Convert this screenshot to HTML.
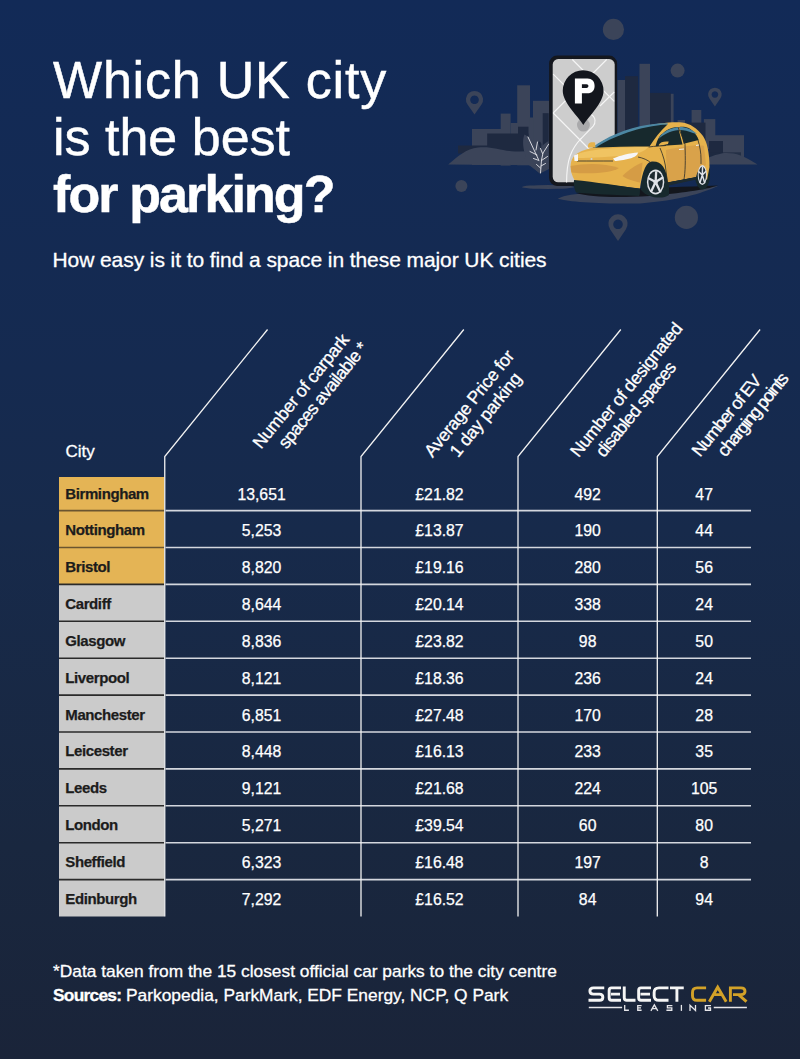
<!DOCTYPE html>
<html><head><meta charset="utf-8">
<style>
*{margin:0;padding:0;box-sizing:border-box;}
html,body{width:800px;height:1059px;overflow:hidden;}
body{position:relative;font-family:"Liberation Sans",sans-serif;color:#fff;
background:linear-gradient(180deg,#122a57 0%,#152a50 35%,#172a4b 50%,#19273f 80%,#1a2439 100%);}
.abs{position:absolute;white-space:nowrap;}
.t{font-size:52px;line-height:57px;left:53px;-webkit-text-stroke:0.5px #fff;}
.sub{font-size:21px;left:52.5px;letter-spacing:-0.08px;-webkit-text-stroke:0.3px #fff;}
.hl{position:absolute;height:0;}
.city{position:absolute;left:59px;width:105px;color:#1c1c1c;font-weight:bold;font-size:15px;padding-left:6.3px;line-height:18px;letter-spacing:-0.4px;-webkit-text-stroke:0.25px #1c1c1c;}
.num{position:absolute;font-size:15.8px;text-align:center;width:100px;line-height:18px;-webkit-text-stroke:0.25px #fff;}
.foot{-webkit-text-stroke:0.3px #fff;}
.rh{position:absolute;font-size:17px;transform-origin:0 0;white-space:nowrap;}
</style></head><body>
<svg class="abs" style="left:0;top:0;" width="800" height="260" viewBox="0 0 800 260">
<g fill="#3b4459">
<!-- left city light blocks -->
<rect x="517.2" y="85.3" width="12.8" height="80"/>
<rect x="533" y="100.8" width="16" height="65"/>
<rect x="500.7" y="113.6" width="9.9" height="52"/>
<rect x="472" y="129" width="30" height="36"/>
<rect x="510.6" y="123" width="8" height="42"/>
<rect x="529.5" y="117.5" width="4" height="48"/>
<!-- right city light -->
<rect x="617.5" y="80" width="9" height="60"/>
<rect x="639.5" y="63.8" width="10.5" height="80"/>
<rect x="670.6" y="93.8" width="3" height="50"/>
<rect x="677.6" y="120" width="7.4" height="30"/>
<rect x="691.6" y="110" width="9.7" height="40"/>
<rect x="703.9" y="119.1" width="11.4" height="30"/>
<rect x="715" y="135.2" width="29" height="22"/>

<!-- pins and circles -->
<circle cx="613.45" cy="29.4" r="10.6"/>
<circle cx="677.6" cy="70.6" r="7"/>
<circle cx="461.4" cy="186" r="6"/>
<circle cx="686.4" cy="217.4" r="11.6"/>
<path fill-rule="evenodd" d="M474.5,114.5 L467.5,104.5 A8.6,8.6 0 1 1 481.5,104.5 Z M474.5,95.5 A4.3,4.3 0 1 0 474.51,95.5 Z"/>
<path fill-rule="evenodd" d="M714.9,106.5 L709.3,98.3 A6.8,6.8 0 1 1 720.5,98.3 Z M714.9,91.2 A3.3,3.3 0 1 0 714.91,91.2 Z"/>
<path fill-rule="evenodd" d="M618,241 L610.2,229.5 A9.6,9.6 0 1 1 625.8,229.5 Z M618,219.5 A4.8,4.8 0 1 0 618.01,219.5 Z"/>
<!-- shadows -->
<ellipse cx="548" cy="187" rx="26" ry="2"/>
<path d="M557.7,198.7 C565,195 575,193.5 590,193.2 L718,186 C700,194 680,200 640,203.5 C600,204 570,202 557.7,198.7 Z"/>
</g>
<g fill="#1e2940">
<rect x="487.2" y="133.5" width="41.3" height="20"/>
<rect x="518" y="126.7" width="10.5" height="10"/>
<rect x="458" y="145.5" width="30" height="8"/>
<rect x="542.7" y="113.2" width="6" height="40"/>
<rect x="625" y="76.2" width="13" height="70"/>
<rect x="650" y="92.9" width="20.6" height="55"/>
<rect x="685.5" y="122.6" width="20" height="30"/>
<rect x="709" y="141" width="14" height="15"/>
<rect x="709" y="152.3" width="32" height="8" opacity="0.75"/>
</g>
<g fill="#3b4459"><!-- left hill -->
<path d="M448.2,164.5 C458,156 466,149 478,147.5 C492,146 502,151 515,151.5 C528,152 538,150 548,150 L548,165 L540,173.5 L530,165 Z"/>
</g>
<path fill="#3b4459" d="M700,164.6 C705,158 712,155.5 722.5,153.2 C735,152.5 742,155 757.5,164.6 Z"/>
<!-- plant -->
<path d="M524.5,134.5 C530,137 536,145 539,152 C540,148 543,144 548.7,141 L549,169 L540,173.5 L529,165 L520,165 L526,156 C523,150 522,140 524.5,134.5 Z" fill="#3b4459"/>
<path d="M541.5,144 C540,141 539,141 538,143 L541,150 Z" fill="#1e2940"/>
<g stroke="#e8e8ec" stroke-width="0.9" fill="none" stroke-linecap="round">
<path d="M540.5,173 L541.5,160 L543,153 L548.75,144"/>
<path d="M528,137 L538.5,159.5"/>
<path d="M530,151.5 L537,155 M533.5,158.5 L539,160.5 M536.5,164.5 L540.5,168"/>
<path d="M540.5,148.5 L542.5,153.5 M547.5,156.5 L541.5,160.5 M545.5,163.5 L541,166"/>
<path d="M537.5,142 L536,150"/>
</g>
<!-- phone -->
<rect x="549.1" y="55.6" width="68" height="130.3" rx="8" fill="#14171e"/>
<rect x="552.7" y="59.1" width="62" height="123.2" rx="5.5" fill="#cdcdcd"/>
<g stroke="#f6f6f6" stroke-width="1.1" fill="none">
<path d="M572.3,59.5 L614.2,101.3"/>
<path d="M606.7,59.5 L553.2,113"/>
<path d="M553.2,74.1 L578,99"/>
<path d="M553.2,113 L590,150"/>
<path d="M580.6,139.2 L593,126.5 C596,123 596,117 591,114.5"/>
<path d="M581.5,138.2 C571,149 566.6,160 566.6,182.5"/>
<path d="M614.2,92 L600,106"/>
</g>
<circle cx="583.4" cy="125.1" r="6.4" fill="#a9a9ab"/>
<path d="M583.4,125.1 C579,117 562.75,103 562.75,90.7 A20.4,20.4 0 0 1 603.55,90.7 C603.55,103 588,117 583.4,125.1 Z" fill="#13161d"/>
<path fill-rule="evenodd" fill="#fff" d="M574.9,78.6 H587.5 C592,78.6 594.6,81.5 594.6,86 C594.6,90.5 592,93.3 587.5,93.3 H581.9 V103.45 H574.9 Z M581.9,84.3 H586.5 C587.8,84.3 588.4,85 588.4,86 C588.4,87 587.8,87.9 586.5,87.9 H581.9 Z"/>
<!-- car shadow -->
<path d="M576,193 C600,190 650,188 718,185.5 C705,190 680,193 650,196 C615,198 590,197 576,193 Z" fill="#13161d"/>
<!-- car -->
<g>
<ellipse cx="702.5" cy="175" rx="7.5" ry="14.5" fill="#17292d"/>
<path d="M641,190 C641,172 646,161 655,161 C664,161 669,170 669,184 L669,195 C664,199 648,199 641,190 Z" fill="#17292d"/>
<!-- body -->
<path d="M570.6,166 C571,160 573,156 578,153 C583,150 588,149 593,147.5 C605,139 625,128 660,123.5 C668,122.5 676,122 682,122.5 C690,123.5 697,128 703,136 C707,142 709.5,152 709.5,167 L707,180 L703,176 C702,166 697,161 696,177 L668,182.5 C666,168 662,161 652,161.5 C645,162 642,175 640,188.5 L575,181 C572,176 570.5,171 570.6,166 Z" fill="#e6b24c"/>
<path d="M578,154 C590,149 620,147 648,147 C645,151 640,153 630,155 C610,157 590,158 578,158 Z" fill="#f0c462"/>
<path d="M666,150 C680,147 698,144 704,146 L706,165 C700,167 697,172 696,177 L668,182 C667,170 666,160 666,150 Z" fill="#d9a24a"/>
<!-- shading -->
<path d="M570.6,166 C585,163 605,163 619,168 C612,173 590,174.5 571.5,172.5 Z" fill="#d59c45"/>
<path d="M622.5,176 C628,170 636,165 642.5,162.5 C642,170 641,177 640,182.5 C633,181 626,179 622.5,176 Z" fill="#d59c45"/>
<!-- windshield -->
<path d="M592.5,147.7 C605,139 625,129 645,126 C655,124.5 663,124 667.5,124.4 C660,131 654,139 649.5,146.5 C630,146.5 610,147 592.5,147.7 Z" fill="#17292d"/>
<path d="M593,147 C605,138 625,128 650,124.5 C658,123.5 664,123 668,123.5 L667.5,124.6 C640,126 612,137 596,147.5 Z" fill="#4c87a3"/>
<!-- side windows -->
<path d="M655.6,146.3 C657,140 660,135 662.5,133.8 C666,130 670,127.7 678,127 L682.5,144.4 Z" fill="#17292d"/>
<path d="M658.5,139 C661,134 666,129 678,127 L678.8,130 C669,131 663,135 658.5,139 Z" fill="#4c87a3"/>
<path d="M679.4,126.9 C683,126.5 686,127 688.7,128 C692,130 696,133 698.7,140 L683.7,143.7 Z" fill="#17292d"/>
<path d="M679.5,127 C685,126.8 692,129 697,134 L693,133 C688,131 684,130 680,130 Z" fill="#4c87a3"/>
<path d="M658.7,145 C660,142 664,141 668.7,141.5 L668,144 L659,146 Z" fill="#e6b24c"/>
<path d="M588,147.5 C587.5,143 590,141.5 595,142.5 L595.5,147.5 Z" fill="#e6b24c"/>
<!-- lines -->
<g stroke="#2a2b28" stroke-width="0.8" fill="none">
<path d="M678,127 C681,134 684,140 685,144.4 C685.5,160 685.5,172 683.7,181"/>
<path d="M660,148 C663,155 665.5,163 666,171 L667.5,182.5"/>
<path d="M698,140 C700,147 701,153 701,159 L701,164"/>
<path d="M577,161 C590,161 600,161 613,161"/>
<path d="M638,157 C643,158 648,160 651,163"/>
<path d="M648.7,147 C655,146 662,146 666,145.5"/>
</g>
<!-- headlights -->
<path d="M613,158.5 C620,155.5 630,153 638,152.5 C637.5,155.5 635,157 630,158.5 C624,160 618,161 615,161 Z" fill="#f6f6f6"/>
<path d="M574,155.5 L578,154 L578,161 L574.5,161 Z" fill="#f6f6f6"/>
<circle cx="591.5" cy="159" r="1" fill="#cfd3d8"/>
<path d="M679,149 L684,148.5 L684,149.6 L679,150 Z" fill="#eee"/>
<path d="M696,145 L699,144.6 L699,145.6 L696,146 Z" fill="#eee"/>
<!-- bumper -->
<path d="M574,180 C595,182 620,186 640,188.7 C640,192 640,195 639,196 C615,195 590,194 576,192.5 C574,188 573.5,184 574,180 Z" fill="#17292d"/>
<path d="M668,182.5 L696,177 L696,179 L668,185 Z" fill="#17292d"/>
<!-- rims -->
<ellipse cx="655.6" cy="182" rx="8.7" ry="12.5" fill="#dfe2e7"/>
<ellipse cx="655.6" cy="182" rx="7.2" ry="10.8" fill="#1d2a30"/>
<g stroke="#dfe2e7" stroke-width="2.3" stroke-linecap="butt">
<path d="M655.6,182 L656.2,171.3 M655.6,182 L663.2,177.2 M655.6,182 L660.6,192.4 M655.6,182 L650.8,192.2 M655.6,182 L648.2,178"/>
</g>
<circle cx="655.6" cy="182" r="2.3" fill="#dfe2e7"/>
<ellipse cx="702.3" cy="175" rx="4.6" ry="10" fill="#dfe2e7"/>
<ellipse cx="702.3" cy="175" rx="3.6" ry="8.6" fill="#1d2a30"/>
<g stroke="#dfe2e7" stroke-width="1.5">
<path d="M702.3,175 L702.6,166.4 M702.3,175 L706,171.3 M702.3,175 L704.8,183.3 M702.3,175 L699.8,183.3 M702.3,175 L698.6,171.5"/>
</g>
<path d="M668,182.3 L696.5,177.2 L696.5,179.6 L668.5,185.5 Z" fill="#1d2a30"/>
</g>
</svg>

<div class="abs t" style="top:52px;letter-spacing:0.8px;">Which UK city</div>
<div class="abs t" style="top:109px;">is the best</div>
<div class="abs t" style="top:166px;font-weight:bold;letter-spacing:-1.9px;">for parking?</div>
<div class="abs sub" style="top:248px;">How easy is it to find a space in these major UK cities</div>
<svg class="abs" style="left:0;top:0;" width="800" height="1059" viewBox="0 0 800 1059">
<!--TS-->
<rect x="59" y="477.00" width="105.2" height="33.60" fill="#e4b455"/>
<rect x="59" y="510.60" width="105.2" height="36.90" fill="#e4b455"/>
<rect x="59" y="547.50" width="105.2" height="36.90" fill="#e4b455"/>
<rect x="59" y="584.40" width="105.2" height="36.90" fill="#cbcbcb"/>
<rect x="59" y="621.30" width="105.2" height="36.90" fill="#cbcbcb"/>
<rect x="59" y="658.20" width="105.2" height="36.90" fill="#cbcbcb"/>
<rect x="59" y="695.10" width="105.2" height="36.90" fill="#cbcbcb"/>
<rect x="59" y="732.00" width="105.2" height="36.90" fill="#cbcbcb"/>
<rect x="59" y="768.90" width="105.2" height="36.90" fill="#cbcbcb"/>
<rect x="59" y="805.80" width="105.2" height="36.90" fill="#cbcbcb"/>
<rect x="59" y="842.70" width="105.2" height="36.90" fill="#cbcbcb"/>
<rect x="59" y="879.60" width="105.2" height="36.90" fill="#cbcbcb"/>
<line x1="59" y1="510.60" x2="164" y2="510.60" stroke="#6a5530" stroke-width="1.6"/>
<line x1="165.5" y1="510.60" x2="751" y2="510.60" stroke="#d4d7de" stroke-width="1.6"/>
<line x1="59" y1="547.50" x2="164" y2="547.50" stroke="#6a5530" stroke-width="1.6"/>
<line x1="165.5" y1="547.50" x2="751" y2="547.50" stroke="#d4d7de" stroke-width="1.6"/>
<line x1="59" y1="584.40" x2="164" y2="584.40" stroke="#2a2a2a" stroke-width="1.6"/>
<line x1="165.5" y1="584.40" x2="751" y2="584.40" stroke="#d4d7de" stroke-width="1.6"/>
<line x1="59" y1="621.30" x2="164" y2="621.30" stroke="#2a2a2a" stroke-width="1.6"/>
<line x1="165.5" y1="621.30" x2="751" y2="621.30" stroke="#d4d7de" stroke-width="1.6"/>
<line x1="59" y1="658.20" x2="164" y2="658.20" stroke="#2a2a2a" stroke-width="1.6"/>
<line x1="165.5" y1="658.20" x2="751" y2="658.20" stroke="#d4d7de" stroke-width="1.6"/>
<line x1="59" y1="695.10" x2="164" y2="695.10" stroke="#2a2a2a" stroke-width="1.6"/>
<line x1="165.5" y1="695.10" x2="751" y2="695.10" stroke="#d4d7de" stroke-width="1.6"/>
<line x1="59" y1="732.00" x2="164" y2="732.00" stroke="#2a2a2a" stroke-width="1.6"/>
<line x1="165.5" y1="732.00" x2="751" y2="732.00" stroke="#d4d7de" stroke-width="1.6"/>
<line x1="59" y1="768.90" x2="164" y2="768.90" stroke="#2a2a2a" stroke-width="1.6"/>
<line x1="165.5" y1="768.90" x2="751" y2="768.90" stroke="#d4d7de" stroke-width="1.6"/>
<line x1="59" y1="805.80" x2="164" y2="805.80" stroke="#2a2a2a" stroke-width="1.6"/>
<line x1="165.5" y1="805.80" x2="751" y2="805.80" stroke="#d4d7de" stroke-width="1.6"/>
<line x1="59" y1="842.70" x2="164" y2="842.70" stroke="#2a2a2a" stroke-width="1.6"/>
<line x1="165.5" y1="842.70" x2="751" y2="842.70" stroke="#d4d7de" stroke-width="1.6"/>
<line x1="59" y1="879.60" x2="164" y2="879.60" stroke="#2a2a2a" stroke-width="1.6"/>
<line x1="165.5" y1="879.60" x2="751" y2="879.60" stroke="#d4d7de" stroke-width="1.6"/>
<polyline points="267.55,329.5 164.75,456.5 164.75,916.50" fill="none" stroke="#f2f2f2" stroke-width="1.3"/>
<polyline points="463.80,329.5 361.00,456.5 361.00,916.50" fill="none" stroke="#f2f2f2" stroke-width="1.3"/>
<polyline points="620.80,329.5 518.00,456.5 518.00,916.50" fill="none" stroke="#f2f2f2" stroke-width="1.3"/>
<polyline points="760.10,329.5 657.30,456.5 657.30,916.50" fill="none" stroke="#f2f2f2" stroke-width="1.3"/>
<!--/TS-->
<!--HD-->
<g font-family="Liberation Sans" font-size="17.8" fill="#fff" stroke="#fff" stroke-width="0.3">
<text letter-spacing="-0.35" transform="translate(261.00,449.80) rotate(-51)">Number of carpark</text>
<text letter-spacing="-0.73" transform="translate(286.50,449.80) rotate(-51)">spaces available *</text>
<text letter-spacing="-0.35" transform="translate(432.50,458.30) rotate(-51)">Average Price for</text>
<text letter-spacing="-0.35" transform="translate(458.00,458.30) rotate(-51)">1 day parking</text>
<text letter-spacing="-0.43" transform="translate(578.40,458.20) rotate(-51)">Number of designated</text>
<text letter-spacing="-0.79" transform="translate(603.90,458.20) rotate(-51)">disabled spaces</text>
<text letter-spacing="-1.14" transform="translate(700.10,457.70) rotate(-51)">Number of EV</text>
<text letter-spacing="-1.34" transform="translate(725.60,457.70) rotate(-51)">charging points</text>
</g>
<!--/HD-->
</svg>
<div class="abs" style="left:65.5px;top:441.5px;font-size:17px;-webkit-text-stroke:0.3px #fff;">City</div>
<!--TH-->
<div class="city" style="top:484.80px;">Birmingham</div>
<div class="num" style="left:211.57px;top:485.80px;">13,651</div>
<div class="num" style="left:389.50px;top:485.80px;">£21.82</div>
<div class="num" style="left:537.65px;top:485.80px;">492</div>
<div class="num" style="left:654.15px;top:485.80px;">47</div>
<div class="city" style="top:521.05px;">Nottingham</div>
<div class="num" style="left:211.57px;top:522.05px;">5,253</div>
<div class="num" style="left:389.50px;top:522.05px;">£13.87</div>
<div class="num" style="left:537.65px;top:522.05px;">190</div>
<div class="num" style="left:654.15px;top:522.05px;">44</div>
<div class="city" style="top:557.95px;">Bristol</div>
<div class="num" style="left:211.57px;top:558.95px;">8,820</div>
<div class="num" style="left:389.50px;top:558.95px;">£19.16</div>
<div class="num" style="left:537.65px;top:558.95px;">280</div>
<div class="num" style="left:654.15px;top:558.95px;">56</div>
<div class="city" style="top:594.85px;">Cardiff</div>
<div class="num" style="left:211.57px;top:595.85px;">8,644</div>
<div class="num" style="left:389.50px;top:595.85px;">£20.14</div>
<div class="num" style="left:537.65px;top:595.85px;">338</div>
<div class="num" style="left:654.15px;top:595.85px;">24</div>
<div class="city" style="top:631.75px;">Glasgow</div>
<div class="num" style="left:211.57px;top:632.75px;">8,836</div>
<div class="num" style="left:389.50px;top:632.75px;">£23.82</div>
<div class="num" style="left:537.65px;top:632.75px;">98</div>
<div class="num" style="left:654.15px;top:632.75px;">50</div>
<div class="city" style="top:668.65px;">Liverpool</div>
<div class="num" style="left:211.57px;top:669.65px;">8,121</div>
<div class="num" style="left:389.50px;top:669.65px;">£18.36</div>
<div class="num" style="left:537.65px;top:669.65px;">236</div>
<div class="num" style="left:654.15px;top:669.65px;">24</div>
<div class="city" style="top:705.55px;">Manchester</div>
<div class="num" style="left:211.57px;top:706.55px;">6,851</div>
<div class="num" style="left:389.50px;top:706.55px;">£27.48</div>
<div class="num" style="left:537.65px;top:706.55px;">170</div>
<div class="num" style="left:654.15px;top:706.55px;">28</div>
<div class="city" style="top:742.45px;">Leicester</div>
<div class="num" style="left:211.57px;top:743.45px;">8,448</div>
<div class="num" style="left:389.50px;top:743.45px;">£16.13</div>
<div class="num" style="left:537.65px;top:743.45px;">233</div>
<div class="num" style="left:654.15px;top:743.45px;">35</div>
<div class="city" style="top:779.35px;">Leeds</div>
<div class="num" style="left:211.57px;top:780.35px;">9,121</div>
<div class="num" style="left:389.50px;top:780.35px;">£21.68</div>
<div class="num" style="left:537.65px;top:780.35px;">224</div>
<div class="num" style="left:654.15px;top:780.35px;">105</div>
<div class="city" style="top:816.25px;">London</div>
<div class="num" style="left:211.57px;top:817.25px;">5,271</div>
<div class="num" style="left:389.50px;top:817.25px;">£39.54</div>
<div class="num" style="left:537.65px;top:817.25px;">60</div>
<div class="num" style="left:654.15px;top:817.25px;">80</div>
<div class="city" style="top:853.15px;">Sheffield</div>
<div class="num" style="left:211.57px;top:854.15px;">6,323</div>
<div class="num" style="left:389.50px;top:854.15px;">£16.48</div>
<div class="num" style="left:537.65px;top:854.15px;">197</div>
<div class="num" style="left:654.15px;top:854.15px;">8</div>
<div class="city" style="top:890.05px;">Edinburgh</div>
<div class="num" style="left:211.57px;top:891.05px;">7,292</div>
<div class="num" style="left:389.50px;top:891.05px;">£16.52</div>
<div class="num" style="left:537.65px;top:891.05px;">84</div>
<div class="num" style="left:654.15px;top:891.05px;">94</div>
<!--/TH-->
<div class="abs foot" style="left:53px;top:960.8px;font-size:17.35px;">*Data taken from the 15 closest official car parks to the city centre</div>
<div class="abs foot" style="left:53px;top:984.9px;font-size:17.35px;"><b style="letter-spacing:-0.75px">Sources:</b> Parkopedia, ParkMark, EDF Energy, NCP, Q Park</div>
<svg class="abs" style="left:0;top:950px;" width="800" height="80" viewBox="0 950 800 80">
<g fill="none" stroke="#f5f5f5" stroke-width="2.9">
<path d="M604.25,987.9 H593.5 Q589.9,987.9 589.9,991 Q589.9,994.1 593.5,994.1 H599.5 Q602.85,994.1 602.85,997.2 Q602.85,1000.3 599.5,1000.3 H588.5"/>
<path d="M621,987.9 H611.5 Q609.15,987.9 609.15,990.5 V997.7 Q609.15,1000.3 611.5,1000.3 H621 M611,994.1 H620"/>
<path d="M624.25,986.5 V997.7 Q624.25,1000.3 626.8,1000.3 H635.5"/>
<path d="M651,987.9 H641 Q638.65,987.9 638.65,990.5 V997.7 Q638.65,1000.3 641,1000.3 H651 M640.5,994.1 H650"/>
<path d="M668.5,987.9 H659 Q654.15,987.9 654.15,992.5 V995.7 Q654.15,1000.3 659,1000.3 H668.5"/>
<path d="M670,987.9 H683.75 M676.9,987.9 V1001.7"/>
</g>
<g fill="none" stroke="#d3a228" stroke-width="2.9">
<path d="M706.1,987.9 H697 Q692.5,987.9 692.5,992.5 V995.7 Q692.5,1000.3 697,1000.3 H706.1"/>
<path d="M709.3,1001.7 L717.7,987.2 L726.2,1001.7 M714.5,994.6 H722.5"/>
<path d="M730.4,1001.7 V987.9 H741 Q745,987.9 745,991.3 Q745,994.6 741,994.6 H733 M738.5,994.6 L746.5,1001.7"/>
</g>
<g fill="none" stroke="#e6e6ea" stroke-width="1.3">
<path d="M588.8,1007.5 H622.1 M713.75,1007.5 H746.9"/>
<path d="M624.7,1004.9 V1010.25 H628.9"/>
<path d="M641.6,1005.55 H637.75 V1010.25 H641.6 M637.75,1007.9 H641"/>
<path d="M650.9,1010.9 L654.35,1004.9 L657.8,1010.9 M652.5,1008.6 H656"/>
<path d="M672.4,1005.55 H667.4 V1007.9 H671.8 V1010.25 H666.4"/>
<path d="M681.4,1004.9 V1010.9"/>
<path d="M690,1010.9 V1005.3 L695.5,1010.5 V1004.9"/>
<path d="M711,1005.55 H705.4 V1010.25 H710.5 V1008 H708"/>
</g>
</svg>

</body></html>
